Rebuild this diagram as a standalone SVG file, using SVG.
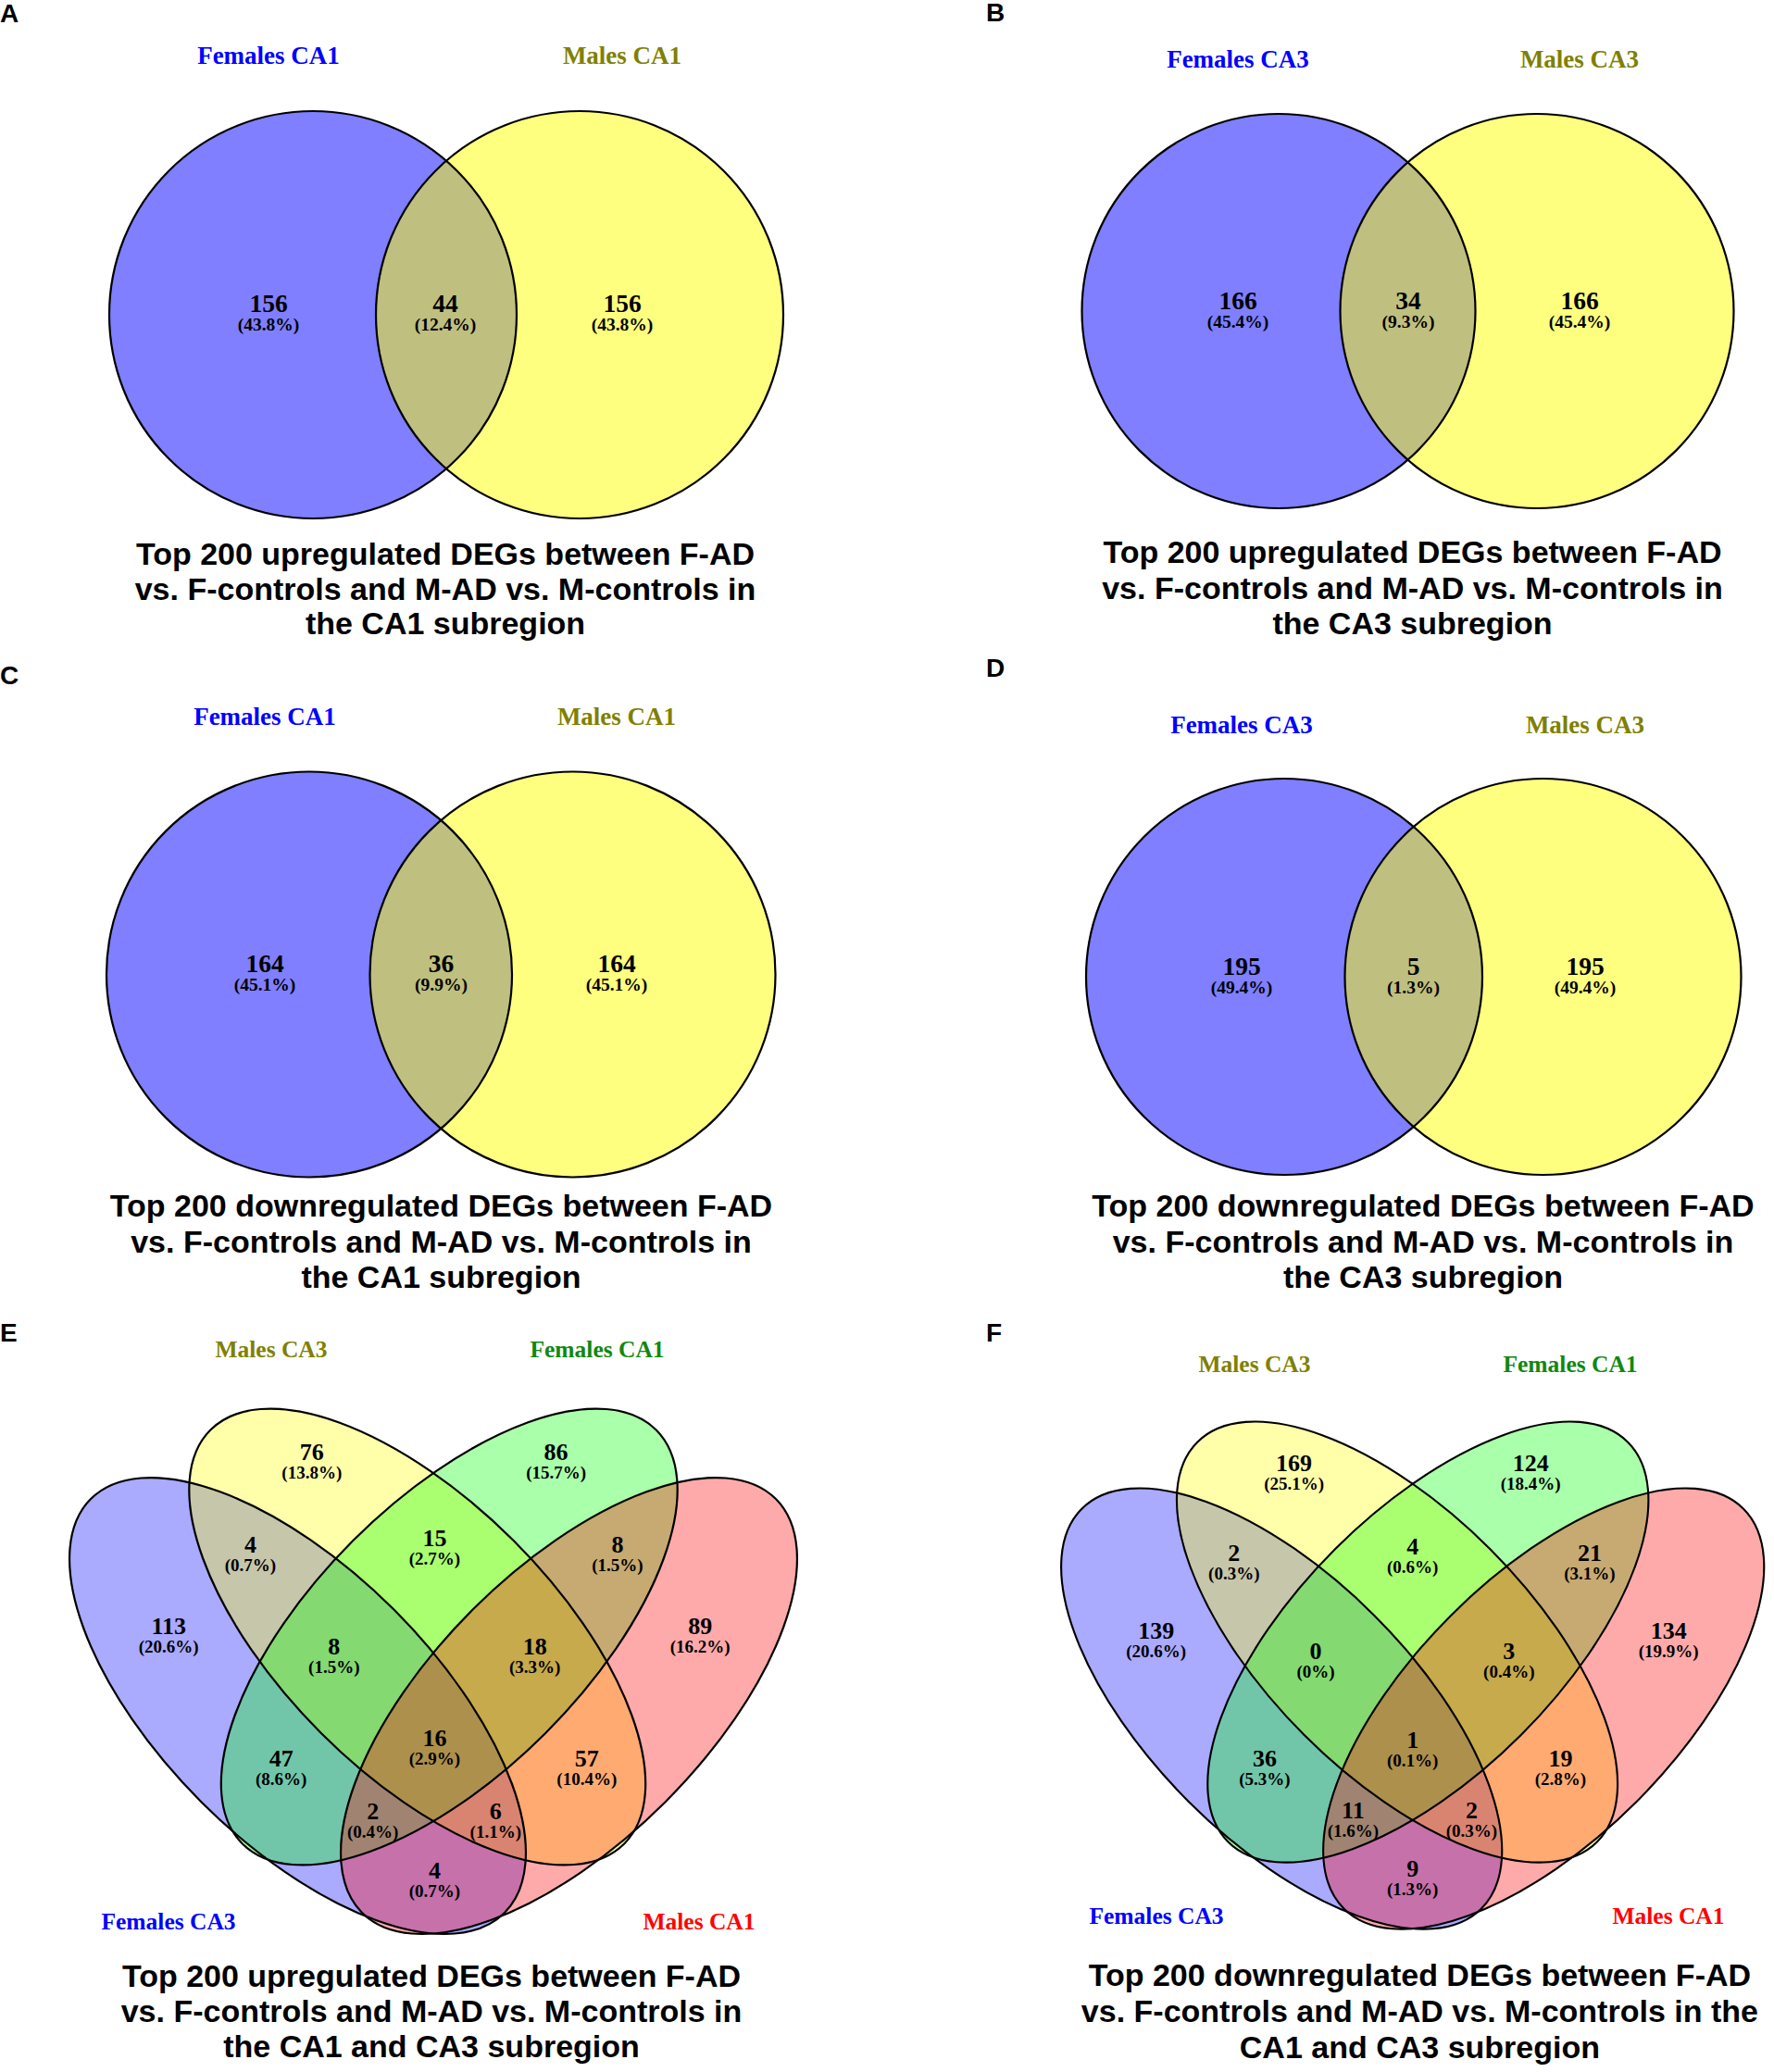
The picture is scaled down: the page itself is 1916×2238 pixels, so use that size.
<svg xmlns="http://www.w3.org/2000/svg" xmlns:xlink="http://www.w3.org/1999/xlink" width="1916" height="2238" viewBox="0 0 1916 2238">
<style>
.bg{fill:#ffffff}
.out{fill:none;stroke:#000;stroke-width:2.2}
.b2{fill:#0000ff;fill-opacity:0.5}
.y2{fill:#ffff00;fill-opacity:0.5}
.b4{fill:#0000ff;fill-opacity:0.3333}
.y4{fill:#ffff00;fill-opacity:0.3333}
.g4{fill:#00ff00;fill-opacity:0.3333}
.r4{fill:#ff0000;fill-opacity:0.3333}
.panel{font-family:"Liberation Sans",Arial,sans-serif;font-weight:bold;font-size:28px;fill:#000}
.title{font-family:"Liberation Sans",Arial,sans-serif;font-weight:bold;font-size:34px;fill:#000;text-anchor:middle}
.lab{font-family:"Liberation Serif","Times New Roman",serif;font-weight:bold;font-size:27px;text-anchor:middle}
.lab4{font-family:"Liberation Serif","Times New Roman",serif;font-weight:bold;font-size:25.5px;text-anchor:middle}
.num{font-family:"Liberation Serif","Times New Roman",serif;font-weight:bold;font-size:27.5px;text-anchor:middle;fill:#000}
.num4{font-family:"Liberation Serif","Times New Roman",serif;font-weight:bold;font-size:26px;text-anchor:middle;fill:#000}
.pct{font-family:"Liberation Serif","Times New Roman",serif;font-weight:bold;font-size:19.5px;text-anchor:middle;fill:#000}
.pct4{font-family:"Liberation Serif","Times New Roman",serif;font-weight:bold;font-size:19px;text-anchor:middle;fill:#000}
.cb{fill:#0000ff}
.co{fill:#808000}
.cg{fill:#108810}
.cr{fill:#ff0000}
</style>
<defs>
<ellipse id="eB" cx="321.5" cy="1842.5" rx="316" ry="147" transform="rotate(45 321.5 1842.5)"/>
<ellipse id="eY" cx="450.75" cy="1768" rx="316" ry="147" transform="rotate(45 450.75 1768)"/>
<ellipse id="eG" cx="485.25" cy="1768" rx="316" ry="147" transform="rotate(-45 485.25 1768)"/>
<ellipse id="eR" cx="614.5" cy="1842.5" rx="316" ry="147" transform="rotate(-45 614.5 1842.5)"/>
</defs>
<rect class="bg" x="0" y="0" width="1916" height="2238"/>

<!-- Panel A -->
<g id="panelA">
<text class="panel" x="0" y="24">A</text>
<g id="A-females-ca1"><circle class="b2" cx="338" cy="340" r="220"/></g>
<g id="A-males-ca1"><circle class="y2" cx="626" cy="340" r="220"/></g>
<circle class="out" cx="338" cy="340" r="220"/>
<circle class="out" cx="626" cy="340" r="220"/>
<text class="lab cb" x="290" y="69">Females CA1</text>
<text class="lab co" x="672" y="69">Males CA1</text>
<text class="num" x="290" y="337">156</text><text class="pct" x="290" y="357">(43.8%)</text>
<text class="num" x="481" y="337">44</text><text class="pct" x="481" y="357">(12.4%)</text>
<text class="num" x="672" y="337">156</text><text class="pct" x="672" y="357">(43.8%)</text>
<text class="title" x="481" y="610">Top 200 upregulated DEGs between F-AD</text>
<text class="title" x="481" y="648">vs. F-controls and M-AD vs. M-controls in</text>
<text class="title" x="481" y="685">the CA1 subregion</text>
</g>

<!-- Panel B -->
<g id="panelB">
<text class="panel" x="1065" y="23">B</text>
<g id="B-females-ca3"><ellipse class="b2" cx="1381" cy="336" rx="212.5" ry="213"/></g>
<g id="B-males-ca3"><ellipse class="y2" cx="1660" cy="336" rx="212.5" ry="213"/></g>
<ellipse class="out" cx="1381" cy="336" rx="212.5" ry="213"/>
<ellipse class="out" cx="1660" cy="336" rx="212.5" ry="213"/>
<text class="lab cb" x="1337" y="73">Females CA3</text>
<text class="lab co" x="1706" y="73">Males CA3</text>
<text class="num" x="1337" y="334">166</text><text class="pct" x="1337" y="354">(45.4%)</text>
<text class="num" x="1521" y="334">34</text><text class="pct" x="1521" y="354">(9.3%)</text>
<text class="num" x="1706" y="334">166</text><text class="pct" x="1706" y="354">(45.4%)</text>
<text class="title" x="1525.5" y="608">Top 200 upregulated DEGs between F-AD</text>
<text class="title" x="1525.5" y="647">vs. F-controls and M-AD vs. M-controls in</text>
<text class="title" x="1525.5" y="685">the CA3 subregion</text>
</g>

<!-- Panel C -->
<g id="panelC">
<text class="panel" x="0" y="739">C</text>
<g id="C-females-ca1"><circle class="b2" cx="334" cy="1052.5" r="219"/></g>
<g id="C-males-ca1"><circle class="y2" cx="618.5" cy="1052.5" r="219"/></g>
<circle class="out" cx="334" cy="1052.5" r="219"/>
<circle class="out" cx="618.5" cy="1052.5" r="219"/>
<text class="lab cb" x="286" y="783">Females CA1</text>
<text class="lab co" x="666" y="783">Males CA1</text>
<text class="num" x="286" y="1050">164</text><text class="pct" x="286" y="1070">(45.1%)</text>
<text class="num" x="476.5" y="1050">36</text><text class="pct" x="476.5" y="1070">(9.9%)</text>
<text class="num" x="666" y="1050">164</text><text class="pct" x="666" y="1070">(45.1%)</text>
<text class="title" x="476.5" y="1314">Top 200 downregulated DEGs between F-AD</text>
<text class="title" x="476.5" y="1353">vs. F-controls and M-AD vs. M-controls in</text>
<text class="title" x="476.5" y="1391">the CA1 subregion</text>
</g>

<!-- Panel D -->
<g id="panelD">
<text class="panel" x="1065" y="731">D</text>
<g id="D-females-ca3"><circle class="b2" cx="1387" cy="1055" r="214"/></g>
<g id="D-males-ca3"><circle class="y2" cx="1666.5" cy="1055" r="214"/></g>
<circle class="out" cx="1387" cy="1055" r="214"/>
<circle class="out" cx="1666.5" cy="1055" r="214"/>
<text class="lab cb" x="1341" y="792">Females CA3</text>
<text class="lab co" x="1712" y="792">Males CA3</text>
<text class="num" x="1341" y="1052.5">195</text><text class="pct" x="1341" y="1072.5">(49.4%)</text>
<text class="num" x="1526.5" y="1052.5">5</text><text class="pct" x="1526.5" y="1072.5">(1.3%)</text>
<text class="num" x="1712" y="1052.5">195</text><text class="pct" x="1712" y="1072.5">(49.4%)</text>
<text class="title" x="1537" y="1314">Top 200 downregulated DEGs between F-AD</text>
<text class="title" x="1537" y="1353">vs. F-controls and M-AD vs. M-controls in</text>
<text class="title" x="1537" y="1391">the CA3 subregion</text>
</g>

<!-- Panel E -->
<g id="panelE">
<text class="panel" x="0" y="1449">E</text>
<g id="E-females-ca3"><use xlink:href="#eB" class="b4"/></g>
<g id="E-males-ca3"><use xlink:href="#eY" class="y4"/></g>
<g id="E-females-ca1"><use xlink:href="#eG" class="g4"/></g>
<g id="E-males-ca1"><use xlink:href="#eR" class="r4"/></g>
<use xlink:href="#eB" class="out"/><use xlink:href="#eY" class="out"/><use xlink:href="#eG" class="out"/><use xlink:href="#eR" class="out"/>
<text class="lab4 co" x="293" y="1466">Males CA3</text>
<text class="lab4 cg" x="645" y="1466">Females CA1</text>
<text class="lab4 cb" x="182" y="2083.5">Females CA3</text>
<text class="lab4 cr" x="755" y="2083.5">Males CA1</text>
<text class="num4" x="336.8" y="1577">76</text><text class="pct4" x="336.8" y="1597">(13.8%)</text>
<text class="num4" x="600.6" y="1577">86</text><text class="pct4" x="600.6" y="1597">(15.7%)</text>
<text class="num4" x="270.5" y="1676.5">4</text><text class="pct4" x="270.5" y="1696.5">(0.7%)</text>
<text class="num4" x="469.5" y="1670.4">15</text><text class="pct4" x="469.5" y="1690.4">(2.7%)</text>
<text class="num4" x="667" y="1676.5">8</text><text class="pct4" x="667" y="1696.5">(1.5%)</text>
<text class="num4" x="182.2" y="1764.8">113</text><text class="pct4" x="182.2" y="1784.8">(20.6%)</text>
<text class="num4" x="756.2" y="1764.8">89</text><text class="pct4" x="756.2" y="1784.8">(16.2%)</text>
<text class="num4" x="360.8" y="1786.7">8</text><text class="pct4" x="360.8" y="1806.7">(1.5%)</text>
<text class="num4" x="577.7" y="1786.7">18</text><text class="pct4" x="577.7" y="1806.7">(3.3%)</text>
<text class="num4" x="469.5" y="1886.2">16</text><text class="pct4" x="469.5" y="1906.2">(2.9%)</text>
<text class="num4" x="303.7" y="1907.6">47</text><text class="pct4" x="303.7" y="1927.6">(8.6%)</text>
<text class="num4" x="633.8" y="1907.6">57</text><text class="pct4" x="633.8" y="1927.6">(10.4%)</text>
<text class="num4" x="402.7" y="1965.3">2</text><text class="pct4" x="402.7" y="1985.3">(0.4%)</text>
<text class="num4" x="535.3" y="1965.3">6</text><text class="pct4" x="535.3" y="1985.3">(1.1%)</text>
<text class="num4" x="469.5" y="2029">4</text><text class="pct4" x="469.5" y="2049">(0.7%)</text>
<text class="title" x="466" y="2146">Top 200 upregulated DEGs between F-AD</text>
<text class="title" x="466" y="2184">vs. F-controls and M-AD vs. M-controls in</text>
<text class="title" x="466" y="2222">the CA1 and CA3 subregion</text>
</g>

<!-- Panel F -->
<g id="panelF">
<text class="panel" x="1065" y="1449">F</text>
<g transform="translate(1073.6 65.7) scale(0.966)">
<g id="F-females-ca3"><use xlink:href="#eB" class="b4"/></g>
<g id="F-males-ca3"><use xlink:href="#eY" class="y4"/></g>
<g id="F-females-ca1"><use xlink:href="#eG" class="g4"/></g>
<g id="F-males-ca1"><use xlink:href="#eR" class="r4"/></g>
<use xlink:href="#eB" class="out"/><use xlink:href="#eY" class="out"/><use xlink:href="#eG" class="out"/><use xlink:href="#eR" class="out"/>
</g>
<text class="lab4 co" x="1355" y="1481.5">Males CA3</text>
<text class="lab4 cg" x="1696" y="1481.5">Females CA1</text>
<text class="lab4 cb" x="1249" y="2077.6">Females CA3</text>
<text class="lab4 cr" x="1802" y="2077.6">Males CA1</text>
<text class="num4" x="1397.6" y="1588.8">169</text><text class="pct4" x="1397.6" y="1608.8">(25.1%)</text>
<text class="num4" x="1653.2" y="1588.8">124</text><text class="pct4" x="1653.2" y="1608.8">(18.4%)</text>
<text class="num4" x="1332.8" y="1685.7">2</text><text class="pct4" x="1332.8" y="1705.7">(0.3%)</text>
<text class="num4" x="1525.7" y="1678.6">4</text><text class="pct4" x="1525.7" y="1698.6">(0.6%)</text>
<text class="num4" x="1717" y="1685.7">21</text><text class="pct4" x="1717" y="1705.7">(3.1%)</text>
<text class="num4" x="1248.7" y="1770.4">139</text><text class="pct4" x="1248.7" y="1790.4">(20.6%)</text>
<text class="num4" x="1802.2" y="1770.4">134</text><text class="pct4" x="1802.2" y="1790.4">(19.9%)</text>
<text class="num4" x="1421.1" y="1791.8">0</text><text class="pct4" x="1421.1" y="1811.8">(0%)</text>
<text class="num4" x="1629.8" y="1791.8">3</text><text class="pct4" x="1629.8" y="1811.8">(0.4%)</text>
<text class="num4" x="1525.7" y="1887.8">1</text><text class="pct4" x="1525.7" y="1907.8">(0.1%)</text>
<text class="num4" x="1366" y="1908.2">36</text><text class="pct4" x="1366" y="1928.2">(5.3%)</text>
<text class="num4" x="1685.4" y="1908.2">19</text><text class="pct4" x="1685.4" y="1928.2">(2.8%)</text>
<text class="num4" x="1461.4" y="1964.3">11</text><text class="pct4" x="1461.4" y="1984.3">(1.6%)</text>
<text class="num4" x="1589.5" y="1964.3">2</text><text class="pct4" x="1589.5" y="1984.3">(0.3%)</text>
<text class="num4" x="1525.7" y="2026.5">9</text><text class="pct4" x="1525.7" y="2046.5">(1.3%)</text>
<text class="title" x="1533.4" y="2145">Top 200 downregulated DEGs between F-AD</text>
<text class="title" x="1533.4" y="2184">vs. F-controls and M-AD vs. M-controls in the</text>
<text class="title" x="1533.4" y="2223">CA1 and CA3 subregion</text>
</g>
</svg>
